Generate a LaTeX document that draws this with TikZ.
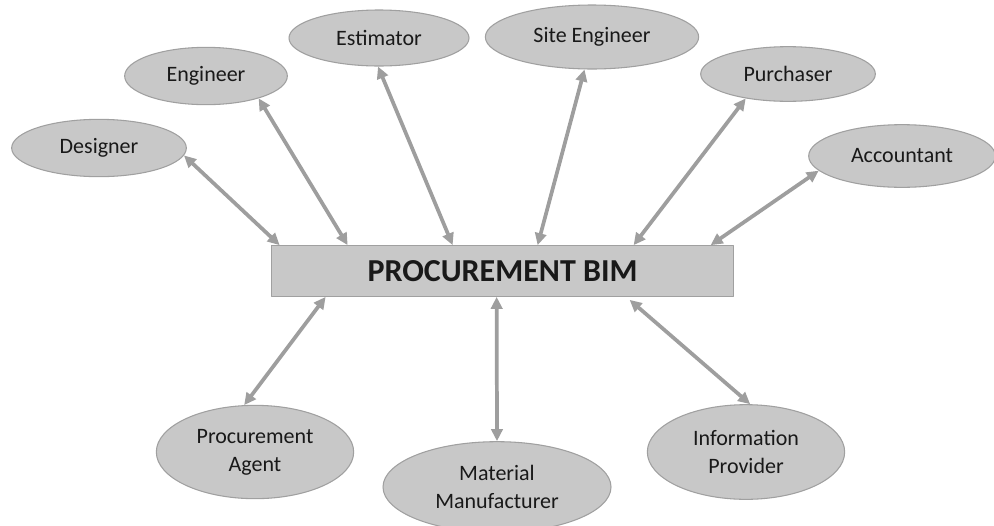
\documentclass[tikz,border=0pt]{standalone}
\usepackage{fontspec}
\setmainfont{Carlito}
\usetikzlibrary{shapes.geometric,arrows.meta,calc}
\definecolor{rolefill}{RGB}{200,200,200}
\definecolor{roleedge}{RGB}{160,160,160}
\definecolor{linkgray}{RGB}{158,158,158}
\definecolor{inkgray}{RGB}{25,25,25}
\begin{document}
\begin{tikzpicture}[x=0.75pt, y=-0.75pt, font=\fontsize{16.5}{21}\selectfont, line join=round,
		>={Triangle[length=9pt,width=8.5pt]},
		role/.style={ellipse, draw=roleedge, fill=rolefill, line width=0.8pt, inner sep=0pt, align=center, text=inkgray},
		hub/.style={rectangle, draw=roleedge, fill=rolefill, line width=0.8pt, inner sep=0pt, text=inkgray, font=\fontsize{24}{28}\selectfont\bfseries},
		link/.style={<->, draw=linkgray, line width=2.8pt}]
	\useasboundingbox (0,0) rectangle (994,525);
	\path
	(502.5,271) node[hub, minimum width=347pt, minimum height=38pt] (bim) {PROCUREMENT BIM}
	(99,148) node[role, minimum width=131pt, minimum height=43pt] (designer) {Designer}
	(206,76) node[role, minimum width=122pt, minimum height=43pt] (engineer) {Engineer}
	(379,38) node[role, minimum width=135pt, minimum height=42pt] (estimator) {Estimator}
	(592,37) node[role, minimum width=160pt, minimum height=48pt] (siteeng) {Site Engineer}
	(788,74) node[role, minimum width=131pt, minimum height=41pt] (purchaser) {Purchaser}
	(902,156) node[role, minimum width=140pt, minimum height=47pt] (accountant) {Accountant}
	(255,452) node[role, minimum width=148pt, minimum height=70pt] (agent) {Procurement\\Agent}
	(497,487) node[role, minimum width=171pt, minimum height=68pt] (maker) {Material\\Manufacturer}
	(746,452) node[role, minimum width=148pt, minimum height=71pt] (info) {Information\\Provider}
	;
	% links above the box
	\draw[link] (designer.-5) -- ($(bim.north west)+(9,0)$);
	\draw[link] (engineer.-23) -- ($(bim.north west)+(77,0)$);
	\draw[link] (estimator.-92) -- ($(bim.north west)+(182,0)$);
	\draw[link] (siteeng.-103) -- ($(bim.north west)+(267,0)$);
	\draw[link] (purchaser.-150) -- ($(bim.north west)+(363,0)$);
	\draw[link] (accountant.-170) -- ($(bim.north west)+(440,0)$);
	% links below the box
	\draw[link] (agent.103) -- ($(bim.south west)+(55,0)$);
	\draw[link] (maker.90) -- ($(bim.south west)+(226,0)$);
	\draw[link] (info.85) -- ($(bim.south west)+(359,3)$);
\end{tikzpicture}
\end{document}
